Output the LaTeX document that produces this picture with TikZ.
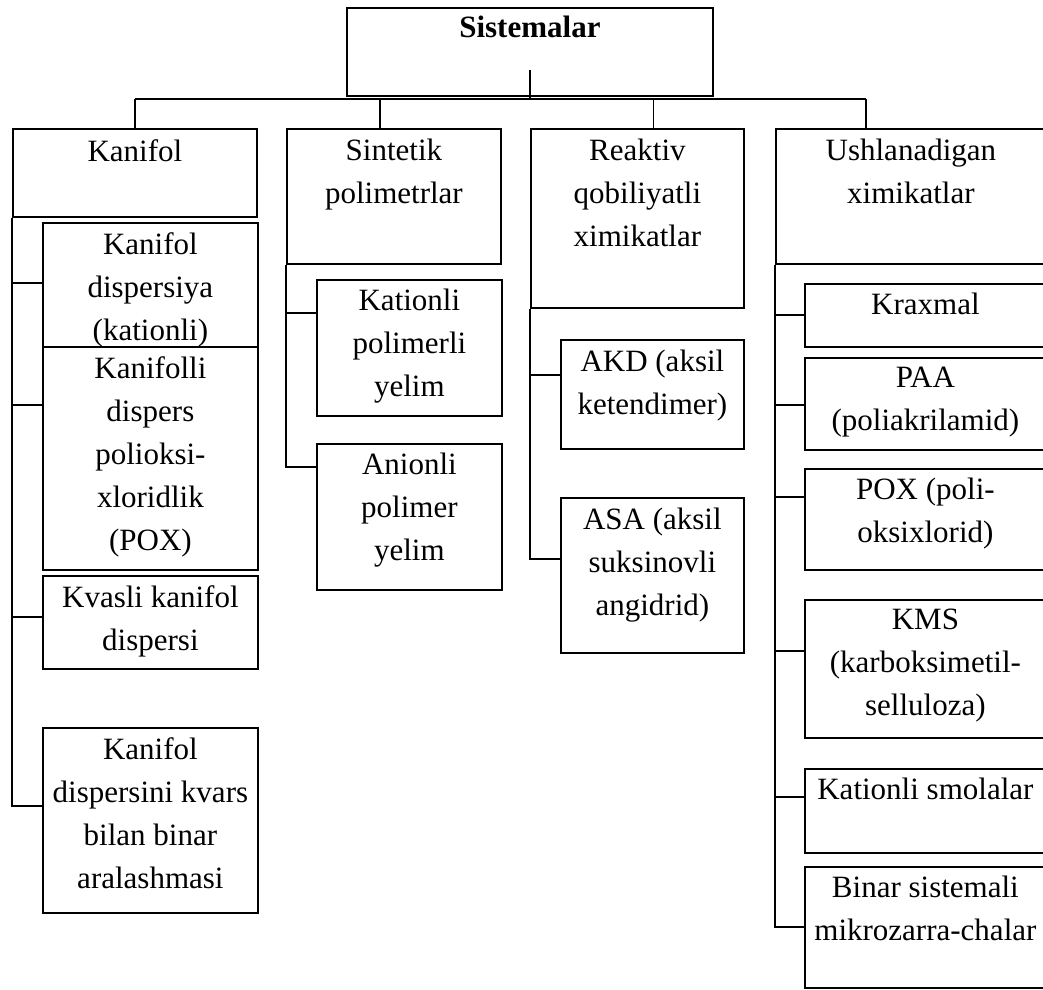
\documentclass[tikz,border=0pt]{standalone}
\usepackage{fontspec}
\setmainfont{Liberation Serif}
\usetikzlibrary{positioning}
\tikzset{
  box/.style={draw, line width=1.8pt, anchor=north west, inner sep=0pt},
  txt/.style={align=center, inner sep=0pt, font=\fontsize{31}{43}\selectfont},
  link/.style={line width=1.8pt},
}

\begin{document}
\begin{tikzpicture}[x=1pt, y=-1pt]
  \useasboundingbox (0,0) rectangle (1043,989);
  % top box
  \node[box, minimum width=366pt, minimum height=88pt] (sis) at (346,7) {};
  \node[txt, font=\fontsize{31}{43}\selectfont\bfseries, below=9pt of sis.north] (sist) {Sistemalar};
  % main groups
  \node[box, minimum width=244pt, minimum height=88pt] (kan) at (12,128) {};
  \node[box, minimum width=214pt, minimum height=135pt] (sin) at (286,128) {};
  \node[box, minimum width=213pt, minimum height=179pt] (rea) at (530,128) {};
  \node[box, minimum width=270pt, minimum height=135pt] (ush) at (775,128) {};
  \node[txt, below=11pt of kan.north] (kant) {Kanifol};
  \node[txt, below=11pt of sin.north] (sint) {Sintetik\\polimetrlar};
  \node[txt, below=11pt of rea.north] (reat) {Reaktiv\\qobiliyatli\\ximikatlar};
  \node[txt, below=11pt of ush.north] (usht) {Ushlanadigan\\ximikatlar};
  % Kanifol
  \node[box, minimum width=215pt, minimum height=124pt] (k1) at (42,222) {};
  \node[box, minimum width=215pt, minimum height=223pt] (k2) at (42,346) {};
  \node[box, minimum width=215pt, minimum height=93pt] (k3) at (42,575) {};
  \node[box, minimum width=215pt, minimum height=185pt] (k4) at (42,727) {};
  \node[txt, below=10pt of k1.north] (k1t) {Kanifol\\dispersiya\\(kationli)};
  \node[txt, below=10pt of k2.north] (k2t) {Kanifolli\\dispers\\polioksi-\\xloridlik\\(POX)};
  \node[txt, below=10pt of k3.north] (k3t) {Kvasli kanifol\\dispersi};
  \node[txt, below=10pt of k4.north] (k4t) {Kanifol\\dispersini kvars\\bilan binar\\aralashmasi};
  % Sintetik
  \node[box, minimum width=185pt, minimum height=136pt] (s1) at (316,279) {};
  \node[box, minimum width=185pt, minimum height=146pt] (s2) at (316,443) {};
  \node[txt, below=10pt of s1.north] (s1t) {Kationli\\polimerli\\yelim};
  \node[txt, below=10pt of s2.north] (s2t) {Anionli\\polimer\\yelim};
  % Reaktiv
  \node[box, minimum width=183pt, minimum height=109pt] (r1) at (560,339) {};
  \node[box, minimum width=183pt, minimum height=155pt] (r2) at (560,497) {};
  \node[txt, below=11pt of r1.north] (r1t) {AKD (aksil\\ketendimer)};
  \node[txt, below=11pt of r2.north] (r2t) {ASA (aksil\\suksinovli\\angidrid)};
  % Ushlanadigan
  \node[box, minimum width=241pt, minimum height=63pt] (u1) at (804,283) {};
  \node[box, minimum width=241pt, minimum height=92pt] (u2) at (804,357) {};
  \node[box, minimum width=241pt, minimum height=101pt] (u3) at (804,468) {};
  \node[box, minimum width=241pt, minimum height=138pt] (u4) at (804,599) {};
  \node[box, minimum width=241pt, minimum height=84pt] (u5) at (804,768) {};
  \node[box, minimum width=241pt, minimum height=121pt] (u6) at (804,866) {};
  \node[txt, below=10pt of u1.north] (u1t) {Kraxmal};
  \node[txt, below=10pt of u2.north] (u2t) {PAA\\(poliakrilamid)};
  \node[txt, below=10pt of u3.north] (u3t) {POX (poli-\\oksixlorid)};
  \node[txt, below=10pt of u4.north] (u4t) {KMS\\(karboksimetil-\\selluloza)};
  \node[txt, below=10pt of u5.north] (u5t) {Kationli smolalar};
  \node[txt, below=10pt of u6.north] (u6t) {Binar sistemali\\mikrozarra-chalar};
  % bus
  \coordinate (bus) at (530,99);
  \coordinate (d2) at ([xshift=-14pt]sin.north);
  \coordinate (d3) at ([xshift=16pt]rea.north);
  \coordinate (d4) at ([xshift=-45pt]ush.north);
  \draw[link] ([yshift=27pt]sis.south) -- (sis.south |- bus);
  \draw[link] (kan.north |- bus) -- (d4 |- bus);
  \draw[link] (kan.north |- bus) -- (kan.north);
  \draw[link] (d2 |- bus) -- (d2);
  \draw[link] (d3 |- bus) -- (d3);
  \draw[link] (d4 |- bus) -- (d4);
  % branches
  \draw[link] (kan.south west) |- ([yshift=-61pt]k1.north west);
  \draw[link] (kan.south west) |- ([yshift=-59pt]k2.north west);
  \draw[link] (kan.south west) |- ([yshift=-42pt]k3.north west);
  \draw[link] (kan.south west) |- ([yshift=-79pt]k4.north west);
  \draw[link] (sin.south west) |- ([yshift=-34pt]s1.north west);
  \draw[link] (sin.south west) |- ([yshift=-24pt]s2.north west);
  \draw[link] (rea.south west) |- ([yshift=-36pt]r1.north west);
  \draw[link] (rea.south west) |- ([yshift=-62pt]r2.north west);
  \draw[link] (ush.south west) |- ([yshift=-32pt]u1.north west);
  \draw[link] (ush.south west) |- ([yshift=-48pt]u2.north west);
  \draw[link] (ush.south west) |- ([yshift=-29pt]u3.north west);
  \draw[link] (ush.south west) |- ([yshift=-52pt]u4.north west);
  \draw[link] (ush.south west) |- ([yshift=-29pt]u5.north west);
  \draw[link] (ush.south west) |- ([yshift=-61pt]u6.north west);
\end{tikzpicture}
\end{document}
